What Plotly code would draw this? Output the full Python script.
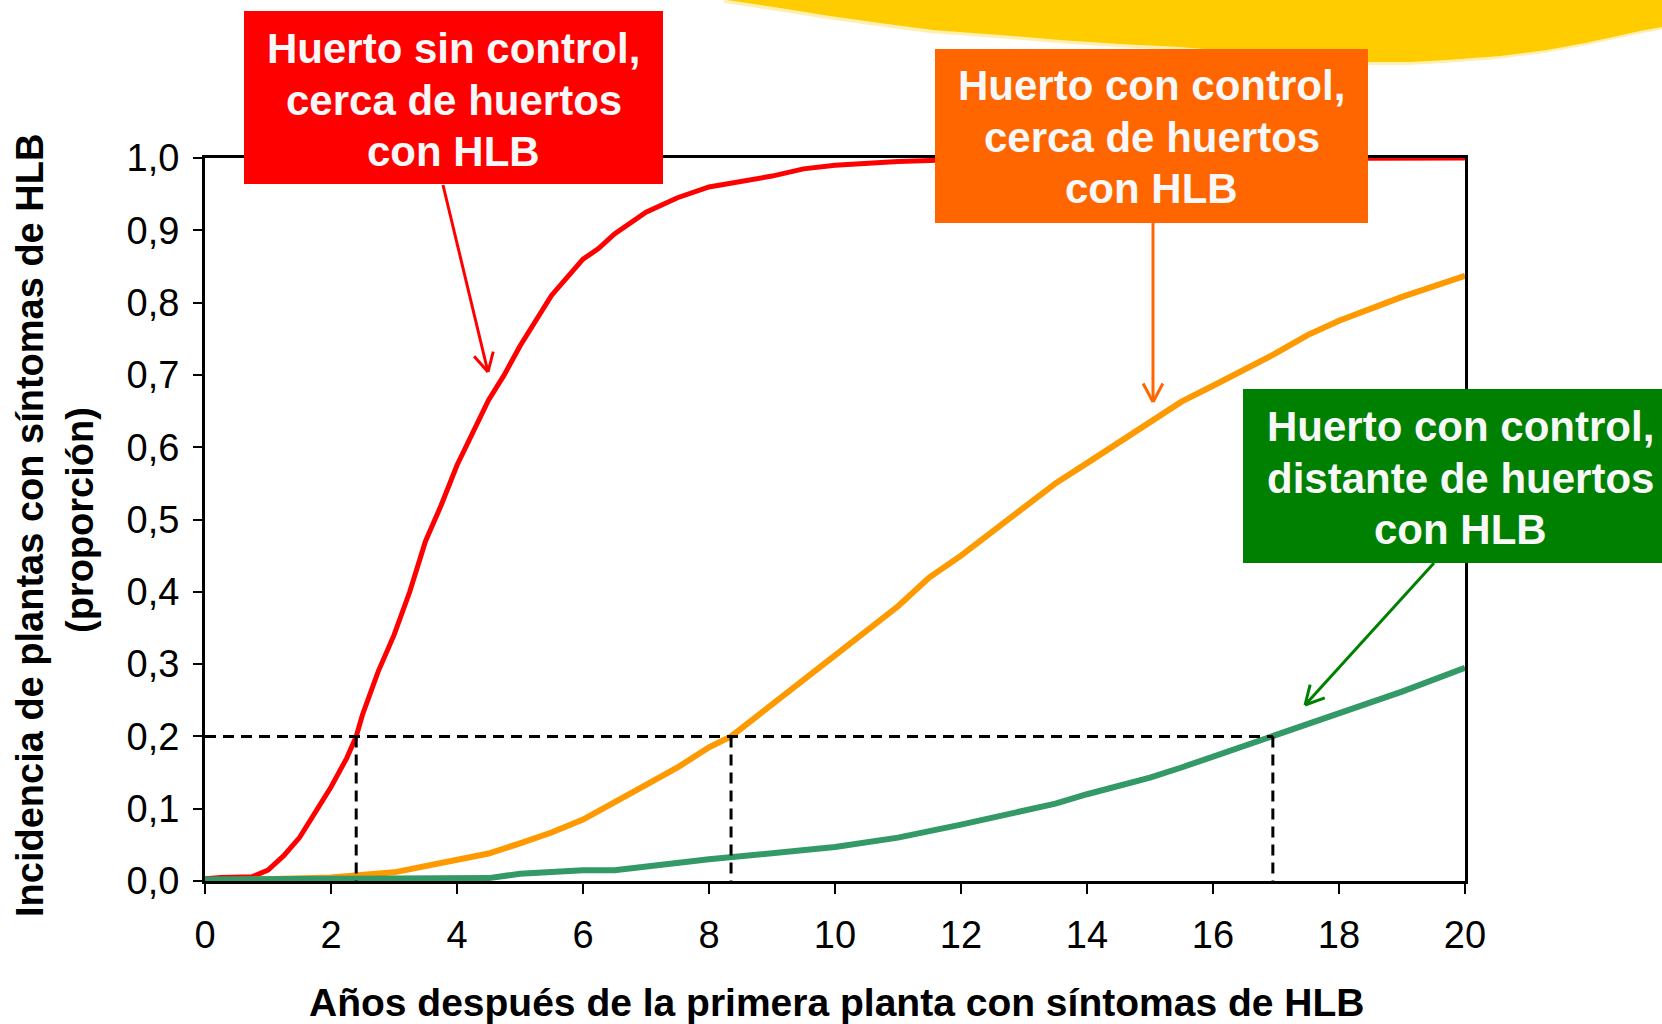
import math
import plotly.graph_objects as go

# ---------------- data ----------------
red_x = [0, 0.25, 0.75, 1.0, 1.25, 1.5, 1.75, 2.0, 2.25, 2.4, 2.5, 2.75, 3.0, 3.25, 3.5, 3.75,
         4.0, 4.25, 4.5, 4.75, 5.0, 5.5, 6.0, 6.25, 6.5, 7.0, 7.5, 8.0, 9.0, 9.5, 10, 11, 12, 20]
red_y = [0.003, 0.005, 0.006, 0.015, 0.035, 0.06, 0.095, 0.13, 0.17, 0.2, 0.23, 0.29, 0.34, 0.40,
         0.47, 0.52, 0.575, 0.62, 0.665, 0.70, 0.74, 0.81, 0.86, 0.875, 0.895, 0.925, 0.945, 0.96,
         0.975, 0.985, 0.99, 0.995, 0.998, 1.0]

orange_x = [0, 2, 3, 4, 4.5, 5, 5.5, 6, 6.5, 7, 7.5, 8, 8.35, 9, 10, 11, 11.5, 12, 13, 13.5, 14,
            15, 15.5, 16, 17, 17.5, 18, 19, 20]
orange_y = [0.0, 0.005, 0.012, 0.028, 0.038, 0.052, 0.067, 0.085, 0.11, 0.133, 0.157, 0.185, 0.2,
            0.245, 0.312, 0.38, 0.42, 0.45, 0.515, 0.55, 0.578, 0.635, 0.663, 0.685, 0.73, 0.755,
            0.775, 0.808, 0.837]

green_x = [0, 4.5, 5, 6, 6.5, 8, 10, 11, 12, 13, 13.5, 14, 15, 15.5, 16, 17, 17.5, 18, 19, 20]
green_y = [0.002, 0.004, 0.01, 0.015, 0.015, 0.03, 0.047, 0.06, 0.078, 0.097, 0.107, 0.12, 0.143,
           0.157, 0.172, 0.2, 0.215, 0.23, 0.262, 0.295]

threshold = 0.2
crossing_x = [2.4, 8.35, 16.95]

x_ticks = list(range(0, 21, 2))
y_ticks = [i / 10 for i in range(11)]
y_ticktext = ["0,0", "0,1", "0,2", "0,3", "0,4", "0,5", "0,6", "0,7", "0,8", "0,9", "1,0"]

labels = [
    ["Huerto sin control,", "cerca de huertos", "con HLB"],
    ["Huerto con control,", "cerca de huertos", "con HLB"],
    ["Huerto con control,", "distante de huertos", "con HLB"],
]

# ---------------- layout geometry (pixels) ----------------
W, H = 1662, 1024
X0, X1 = 205, 1465
Y0, Y1 = 881, 158


def px(X):
    return (X - X0) / (X1 - X0)


def py(Y):
    return (Y0 - Y) / (Y0 - Y1)


FONT = "Liberation Sans, Arial, sans-serif"

fig = go.Figure()

fig.add_trace(go.Scatter(x=red_x, y=red_y, mode="lines",
                         line=dict(color="#FF0000", width=5), hoverinfo="skip"))
fig.add_trace(go.Scatter(x=orange_x, y=orange_y, mode="lines",
                         line=dict(color="#FF9900", width=6), hoverinfo="skip"))
fig.add_trace(go.Scatter(x=green_x, y=green_y, mode="lines",
                         line=dict(color="#339966", width=6), hoverinfo="skip"))

# dashed reference lines
DASH = dict(color="black", width=3, dash="11px,7px")
fig.add_trace(go.Scatter(x=[0, crossing_x[-1]], y=[threshold, threshold], mode="lines",
                         line=DASH, hoverinfo="skip"))
for cx in crossing_x:
    fig.add_trace(go.Scatter(x=[cx, cx], y=[threshold, 0], mode="lines",
                             line=DASH, hoverinfo="skip"))

shapes = []


def lpath(points):
    s = "M %.5f %.5f" % (px(points[0][0]), py(points[0][1]))
    for a, b in points[1:]:
        s += " L %.5f %.5f" % (px(a), py(b))
    return s + " Z"


# yellow decorative shape at top
yellow_edge = [(727, 0), (780, 8), (830, 16), (880, 23), (933, 30), (1000, 35), (1060, 40),
               (1120, 44), (1180, 47), (1230, 51), (1280, 56), (1330, 60), (1367, 62),
               (1410, 62), (1447, 60), (1500, 56), (1547, 50), (1585, 43), (1613, 37),
               (1640, 31), (1662, 27), (1680, 23)]
halo = [(x - 3, y + 3) for x, y in yellow_edge]
shapes.append(dict(type="path", xref="paper", yref="paper",
                   path=lpath([(724, -10)] + halo + [(1680, -10)]),
                   fillcolor="#FFEFB0", line=dict(width=0), layer="below"))
shapes.append(dict(type="path", xref="paper", yref="paper",
                   path=lpath([(727, -10)] + yellow_edge + [(1680, -10)]),
                   fillcolor="#FFCC00", line=dict(width=0), layer="below"))

# boxes
boxes = [
    (244, 11, 663, 184, "#FF0000"),
    (935, 49, 1368, 223, "#FF6600"),
    (1243, 389, 1670, 563, "#008000"),
]
for (bx0, by0, bx1, by1, col) in boxes:
    shapes.append(dict(type="rect", xref="paper", yref="paper",
                       x0=px(bx0), x1=px(bx1), y0=py(by1), y1=py(by0),
                       fillcolor=col, line=dict(width=0), layer="above"))

# arrows
arrows = [
    ((443, 185), (488, 372), "#FF0000"),
    ((1153, 223), (1153, 402), "#FF6600"),
    ((1434, 563), (1305, 705), "#008000"),
]
for (sx, sy), (tx, ty), col in arrows:
    shapes.append(dict(type="line", xref="paper", yref="paper",
                       x0=px(sx), y0=py(sy), x1=px(tx), y1=py(ty),
                       line=dict(color=col, width=3), layer="above"))
    ang = math.atan2(sy - ty, sx - tx)
    for d in (math.radians(28), -math.radians(28)):
        hx = tx + 21 * math.cos(ang + d)
        hy = ty + 21 * math.sin(ang + d)
        shapes.append(dict(type="line", xref="paper", yref="paper",
                           x0=px(tx), y0=py(ty), x1=px(hx), y1=py(hy),
                           line=dict(color=col, width=3), layer="above"))

annotations = []
text_pos = [
    (453.5, [47, 99, 150]),
    (1151.5, [85, 136, 188]),
    (1460, [425, 477, 528]),
]
for lines, (cx, ys) in zip(labels, text_pos):
    for t, yy in zip(lines, ys):
        annotations.append(dict(xref="paper", yref="paper", x=px(cx), y=py(yy + 1),
                                text="<b>%s</b>" % t, showarrow=False,
                                xanchor="center", yanchor="middle",
                                font=dict(family=FONT, size=42, color="#F8F8F8")))

# axis titles
annotations.append(dict(xref="paper", yref="paper", x=px(836), y=py(1002),
                        text="<b>Años después de la primera planta con síntomas de HLB</b>",
                        showarrow=False, xanchor="center", yanchor="middle",
                        font=dict(family=FONT, size=39, color="black")))
annotations.append(dict(xref="paper", yref="paper", x=px(30), y=py(526),
                        text="<b>Incidencia de plantas con síntomas de HLB</b>", textangle=-90,
                        showarrow=False, xanchor="center", yanchor="middle",
                        font=dict(family=FONT, size=38, color="black")))
annotations.append(dict(xref="paper", yref="paper", x=px(80), y=py(520),
                        text="<b>(proporción)</b>", textangle=-90,
                        showarrow=False, xanchor="center", yanchor="middle",
                        font=dict(family=FONT, size=38, color="black")))

fig.update_layout(
    width=W, height=H,
    margin=dict(l=X0, r=W - X1, t=Y1, b=H - Y0, pad=0),
    paper_bgcolor="white", plot_bgcolor="white",
    showlegend=False,
    shapes=shapes, annotations=annotations,
)
fig.update_xaxes(range=[0, 20], tickvals=x_ticks, ticktext=[str(v) for v in x_ticks],
                 showgrid=False, zeroline=False, showline=True, linecolor="black",
                 linewidth=3, mirror=True, ticks="outside", ticklen=10, tickwidth=1.5,
                 tickcolor="black", ticklabelstandoff=8,
                 tickfont=dict(family=FONT, size=38, color="black"))
fig.update_yaxes(range=[0, 1], tickvals=y_ticks, ticktext=y_ticktext,
                 showgrid=False, zeroline=False, showline=True, linecolor="black",
                 linewidth=3, mirror=True, ticks="outside", ticklen=9, tickwidth=1.5,
                 tickcolor="black", ticklabelstandoff=6,
                 tickfont=dict(family=FONT, size=38, color="black"))

fig.write_html("out.html", config={"displayModeBar": False})
with open("out.html", "r", encoding="utf-8") as f:
    html = f.read()
html = html.replace("<head>", "<head><style>body{margin:0;padding:0;overflow:hidden}</style>", 1)
with open("out.html", "w", encoding="utf-8") as f:
    f.write(html)
